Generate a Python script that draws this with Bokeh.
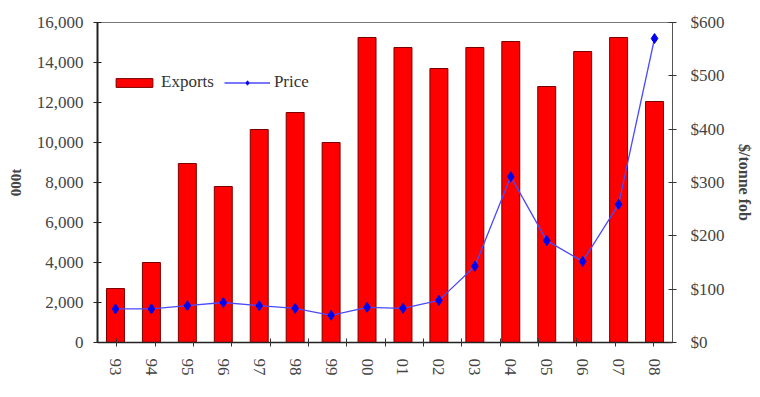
from bokeh.plotting import figure
from bokeh.models import (FactorRange, Range1d, LinearAxis, CategoricalAxis, NumeralTickFormatter,
                          Legend, LegendItem, FixedTicker)
from bokeh.embed import file_html
from bokeh.resources import INLINE

years = ["93", "94", "95", "96", "97", "98", "99", "00", "01", "02", "03", "04", "05", "06", "07", "08"]
exports = [2700, 4000, 8950, 7800, 10650, 11500, 10000, 15250, 14750, 13700, 14750, 15050, 12800, 14550, 15250, 12050]
price = [63, 63, 69, 75, 69, 64, 51, 66, 64, 79, 143, 311, 191, 152, 259, 570]
left_ticks = [0, 2000, 4000, 6000, 8000, 10000, 12000, 14000, 16000]
right_ticks = [0, 100, 200, 300, 400, 500, 600]

FONT = "Liberation Serif"
LBL = "17px"

p = figure(width=760, height=397, x_range=FactorRange(*years, range_padding=0),
           y_range=Range1d(0, 16000), output_backend="svg", toolbar_location=None,
           min_border_left=97, min_border_right=88, min_border_top=22, min_border_bottom=55)
p.extra_y_ranges = {"price": Range1d(0, 600)}
# boundaries between categories, as factors whose centres fall on the slot edges
edges = ["e%d" % i for i in range(len(years) + 1)]
p.extra_x_ranges = {"edges": FactorRange(*edges, range_padding=-1, range_padding_units="absolute")}

bars = p.vbar(x=years, top=exports, width=0.5, fill_color="#FF0000", line_color="#7a0000", line_width=1)
ln = p.line(x=years, y=price, y_range_name="price", line_color="#4a4aff", line_width=1.3)
mk = p.scatter(x=years, y=price, y_range_name="price", marker="diamond", size=10,
               fill_color="#0000ee", line_color="#0000ee")

p.xgrid.visible = False
p.ygrid.visible = False
p.outline_line_color = "#777777"
p.outline_line_width = 1

# left axis
ya = p.yaxis[0]
ya.ticker = FixedTicker(ticks=left_ticks)
ya.formatter = NumeralTickFormatter(format="0,0")
ya.axis_label = "000t"
ya.axis_label_text_font = FONT
ya.axis_label_text_font_style = "bold"
ya.axis_label_text_font_size = "15px"
ya.axis_label_standoff = 10
ya.major_label_text_font = FONT
ya.major_label_text_font_size = LBL
ya.major_label_text_color = "#444444"
ya.major_label_standoff = 10
ya.axis_line_color = "#222222"
ya.axis_line_width = 2
ya.major_tick_in = 4
ya.major_tick_out = 4
ya.major_tick_line_color = "#222222"
ya.minor_tick_line_color = None

# right axis
ra = LinearAxis(y_range_name="price", ticker=FixedTicker(ticks=right_ticks),
                formatter=NumeralTickFormatter(format="$0"))
ra.axis_label = "$/tonne fob"
ra.axis_label_text_font = FONT
ra.axis_label_text_font_style = "bold"
ra.axis_label_text_font_size = "16px"
ra.axis_label_standoff = 8
ra.major_label_text_font = FONT
ra.major_label_text_font_size = LBL
ra.major_label_text_color = "#444444"
ra.major_label_standoff = 14
ra.axis_line_color = "#555555"
ra.major_tick_in = 4
ra.major_tick_out = 4
ra.major_tick_line_color = "#333333"
ra.minor_tick_line_color = None
p.add_layout(ra, "right")

# x axis: category labels
xa = p.xaxis[0]
xa.major_label_orientation = -1.5708
xa.major_label_text_font = FONT
xa.major_label_text_font_size = LBL
xa.major_label_text_color = "#444444"
xa.major_label_standoff = 6
xa.axis_line_color = None
xa.major_tick_line_color = None

# x axis: tick marks between categories (labels hidden)
ta = CategoricalAxis(x_range_name="edges", major_label_overrides={e: "" for e in edges})
ta.major_label_text_alpha = 0
ta.major_label_text_font_size = "1px"
ta.major_label_standoff = 0
ta.axis_line_color = "#222222"
ta.axis_line_width = 1.5
ta.major_tick_in = 4
ta.major_tick_out = 4
ta.major_tick_line_color = "#333333"
p.below = [ta, xa]

legend = Legend(items=[LegendItem(label="Exports", renderers=[bars]),
                       LegendItem(label="Price", renderers=[ln, mk])],
                orientation="horizontal", location=(14, 250),
                background_fill_alpha=0, border_line_color=None,
                label_text_font=FONT, label_text_font_size=LBL, label_text_color="#333333",
                glyph_width=46, glyph_height=11, spacing=10, label_standoff=4, padding=4)
p.add_layout(legend, "center")

open("out.html", "w").write(file_html(p, INLINE))
